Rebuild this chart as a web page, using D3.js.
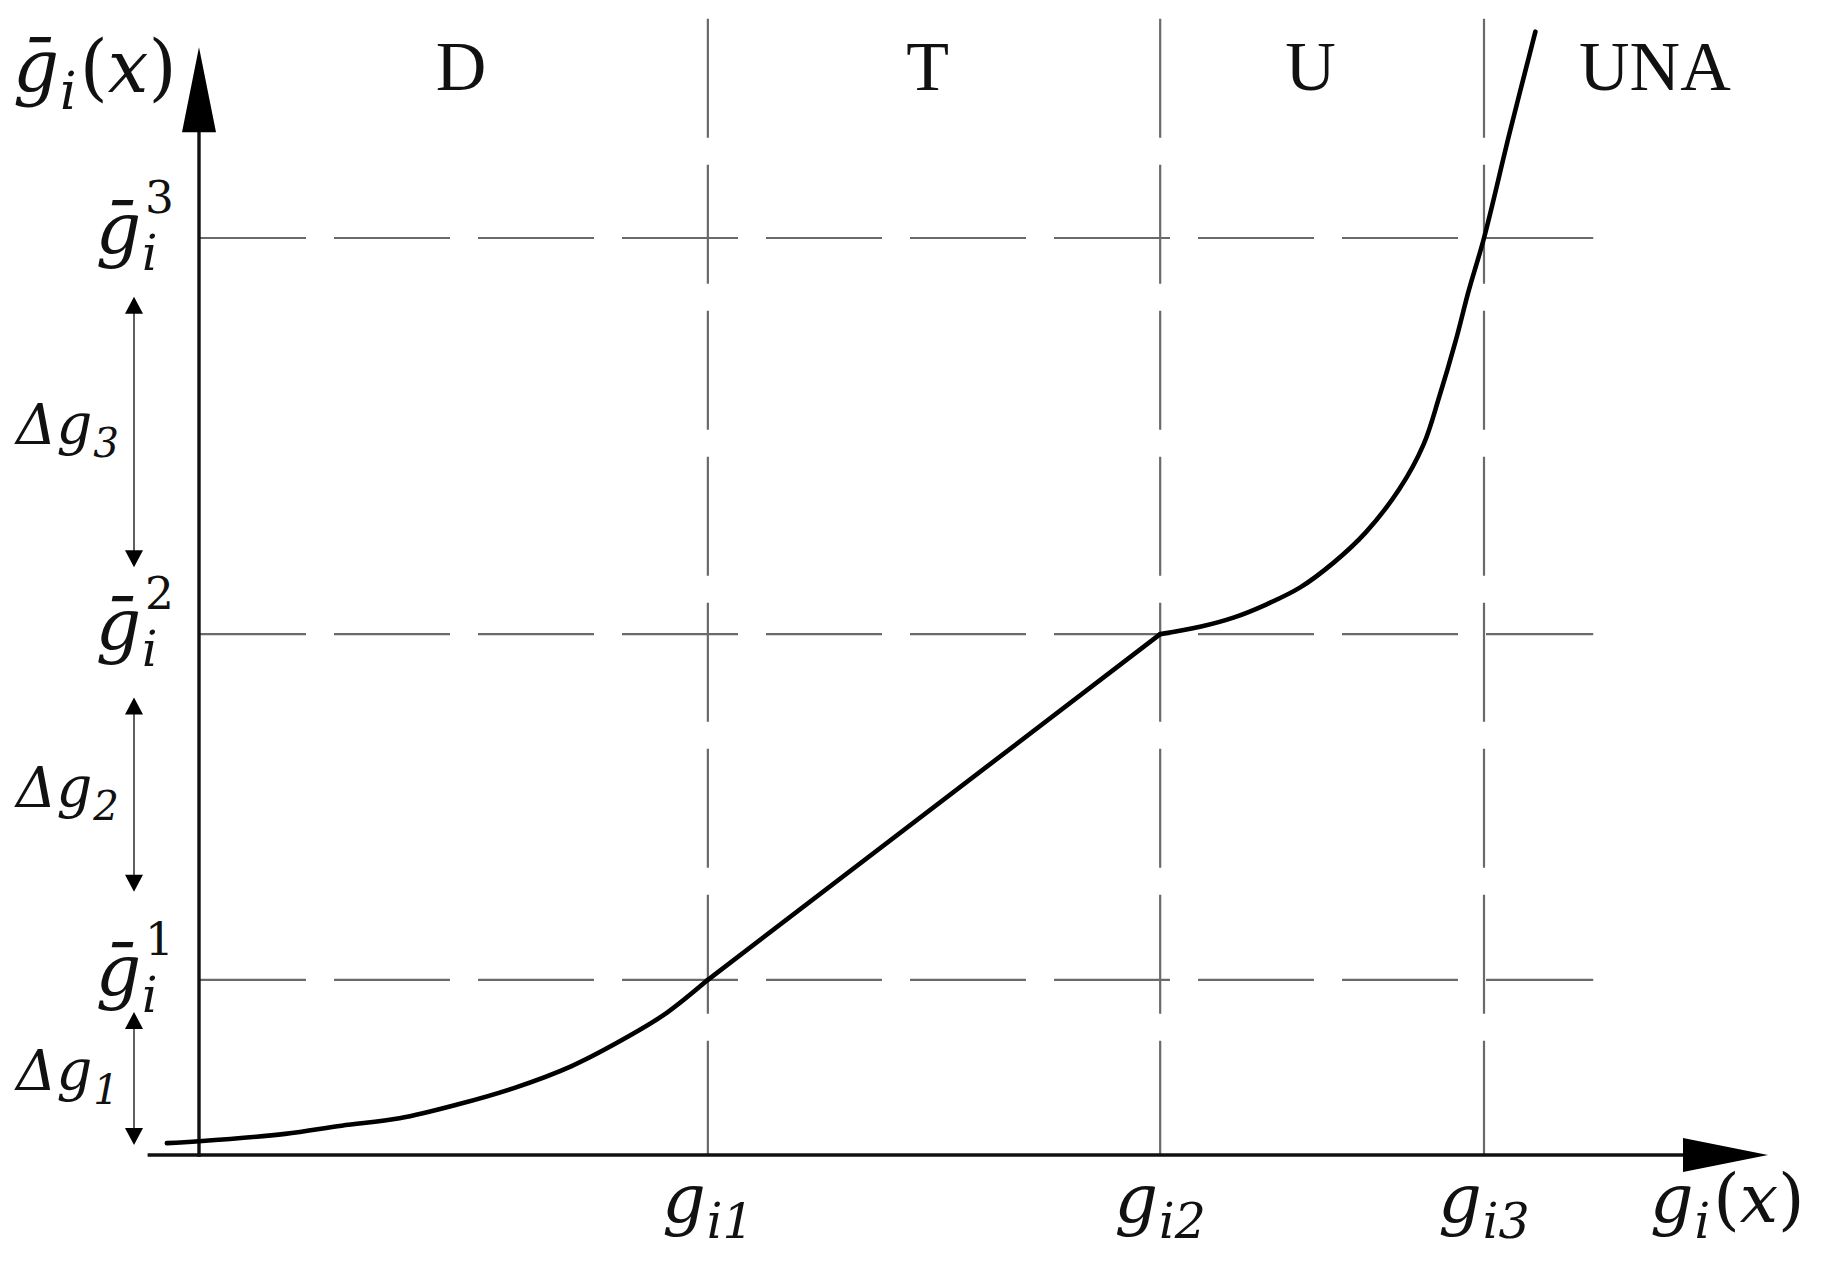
<!DOCTYPE html>
<html><head><meta charset="utf-8">
<script src="https://cdn.jsdelivr.net/npm/d3@7"></script>
<style>body{margin:0;background:#fff}svg{display:block}</style>
</head><body><svg id="chart" width="1828" height="1270"></svg>
<script>
// ---------- data (abstract units: y-axis at x=0, g_i3 = 10; x-axis at y=0, ḡ_i^3 = 10) ----------
const thresholdsX = [3.96, 7.48, 10.0];          // g_i1, g_i2, g_i3
const thresholdsY = [1.91, 5.68, 10.0];          // ḡ_i^1, ḡ_i^2, ḡ_i^3
const xTickSubs = ["i1", "i2", "i3"];
const yTickSups = ["1", "2", "3"];
const regionNames = ["D", "T", "U", "UNA"];
const regionLabelX = [2.04, 5.67, 8.65, 11.33];
const deltaSubs = ["1", "2", "3"];
const deltaLow = [0.11, 2.87, 6.41];
const deltaHigh = [1.56, 4.99, 9.36];
// lower (convex) branch up to g_i1
const lowerX = [-0.25, 0.0, 0.67, 1.11, 1.56, 2.01, 2.45, 2.90, 3.35, 3.64, 3.96];
const lowerY = [0.13, 0.15, 0.23, 0.32, 0.40, 0.55, 0.73, 0.97, 1.30, 1.55, 1.91];
// linear branch g_i1 -> g_i2
const midX = [3.96, 7.48];
const midY = [1.91, 5.68];
// upper branch from g_i2
const upperX = [7.48, 7.79, 8.05, 8.30, 8.57, 8.83, 9.08, 9.34, 9.53, 9.65, 9.78, 9.88, 10.0, 10.20, 10.40];
const upperY = [5.68, 5.76, 5.86, 6.00, 6.19, 6.46, 6.79, 7.26, 7.75, 8.26, 8.88, 9.42, 10.0, 11.15, 12.25];
// axis / grid extents (units)
const xAxisExtent = [-0.40, 12.21];
const yAxisExtent = [-0.02, 12.08];
const gridXEnd = 10.85;
const gridYTop = 12.39;

// ---------- drawing ----------
const svg = d3.select("#chart");
const x = d3.scaleLinear().domain([0, 10]).range([199, 1484]);
const y = d3.scaleLinear().domain([0, 10]).range([1155, 238]);

const MATH = "'DejaVu Serif', 'Liberation Serif', serif";
const gridColor = "#6a6a6a";

// dashed grid
svg.append("g").selectAll("line").data(thresholdsY).join("line")
  .attr("x1", x(0)).attr("x2", x(gridXEnd))
  .attr("y1", d => y(d)).attr("y2", d => y(d))
  .attr("stroke", gridColor).attr("stroke-width", 2.2)
  .attr("stroke-dasharray", "116 28").attr("stroke-dashoffset", 9);
svg.append("g").selectAll("line").data(thresholdsX).join("line")
  .attr("x1", d => x(d)).attr("x2", d => x(d))
  .attr("y1", y(gridYTop)).attr("y2", y(0))
  .attr("stroke", gridColor).attr("stroke-width", 2.2)
  .attr("stroke-dasharray", "119 27");

// axes
const axisColor = "#111";
svg.append("line").attr("x1", x(xAxisExtent[0])).attr("x2", x(xAxisExtent[1]) - 60)
  .attr("y1", y(0)).attr("y2", y(0)).attr("stroke", axisColor).attr("stroke-width", 3.4);
svg.append("line").attr("x1", x(0)).attr("x2", x(0))
  .attr("y1", y(yAxisExtent[0])).attr("y2", y(yAxisExtent[1]) + 60)
  .attr("stroke", axisColor).attr("stroke-width", 3.4);
{
  const tx = x(xAxisExtent[1]), ty = y(0);
  svg.append("path").attr("d", `M${tx},${ty} L${tx - 85},${ty - 17} L${tx - 85},${ty + 17} Z`).attr("fill", "#000");
  const ux = x(0), uy = y(yAxisExtent[1]);
  svg.append("path").attr("d", `M${ux},${uy} L${ux - 17},${uy + 85} L${ux + 17},${uy + 85} Z`).attr("fill", "#000");
}

// curve
const smoothGen = d3.line().x(d => x(d[0])).y(d => y(d[1])).curve(d3.curveCatmullRom.alpha(0.5));
const linGen = d3.line().x(d => x(d[0])).y(d => y(d[1]));
const curveStyle = sel => sel.attr("fill", "none").attr("stroke", "#000").attr("stroke-width", 4.6)
  .attr("stroke-linejoin", "round").attr("stroke-linecap", "round");
svg.append("path").attr("d", smoothGen(d3.zip(lowerX, lowerY))).call(curveStyle);
svg.append("path").attr("d", linGen(d3.zip(midX, midY))).call(curveStyle);
svg.append("path").attr("d", smoothGen(d3.zip(upperX, upperY))).call(curveStyle);

// delta arrows
const ax = 134;
deltaLow.forEach((lo, i) => {
  const y1 = y(deltaHigh[i]), y2 = y(lo);
  svg.append("line").attr("x1", ax).attr("x2", ax).attr("y1", y1 + 10).attr("y2", y2 - 10)
    .attr("stroke", "#444").attr("stroke-width", 1.7);
  svg.append("path").attr("d", `M${ax},${y1} L${ax - 9},${y1 + 17} L${ax + 9},${y1 + 17} Z`).attr("fill", "#000");
  svg.append("path").attr("d", `M${ax},${y2} L${ax - 9},${y2 - 17} L${ax + 9},${y2 - 17} Z`).attr("fill", "#000");
});

// math label helper
function addText(g, px, py, str, size, italic) {
  const t = g.append("text").attr("x", px).attr("y", py).attr("font-family", MATH)
    .attr("font-style", italic ? "italic" : "normal").attr("font-size", size).attr("fill", "#111").text(str);
  return t.node().getComputedTextLength();
}
function mathLabel(px, py, base, sub, sup, tail, anchor, size) {
  const g = svg.append("g");
  const bw = addText(g, 0, 0, base, size, true);
  let sw = 0;
  if (sub) sw = Math.max(sw, addText(g, bw + 1, size * 0.24, sub, size * (sup ? 0.68 : 0.72), true) + 1);
  if (sup) sw = Math.max(sw, addText(g, bw + 4, -size * 0.56, sup, size * 0.64, false) + 4);
  let w = bw + sw;
  if (tail) {
    w += 3;
    tail.forEach(p => { w += addText(g, w, 0, p[0], size, p[1]); });
  }
  const dx = anchor === "end" ? -w : anchor === "middle" ? -w / 2 : 0;
  g.attr("transform", `translate(${px + dx},${py})`);
}
const paren = [["(", false], ["x", true], [")", false]];

const SZ = 68;
mathLabel(13, 92, "ḡ", "i", null, paren, "start", 72);
thresholdsY.forEach((v, i) => mathLabel(174, y(v) + 15, "ḡ", "i", yTickSups[i], null, "end", 71));
thresholdsX.forEach((v, i) => mathLabel(x(v), 1222, "g", xTickSubs[i], null, null, "middle", SZ));
mathLabel(1650, 1222, "g", "i", null, paren, "start", SZ);
deltaSubs.forEach((s, i) => mathLabel(16, (y(deltaLow[i]) + y(deltaHigh[i])) / 2 + 12, "Δg", s, null, null, "start", 56));

// region labels
svg.append("g").selectAll("text").data(regionNames).join("text")
  .attr("x", (d, i) => x(regionLabelX[i])).attr("y", 90)
  .attr("text-anchor", "middle").attr("font-family", "'Liberation Serif', serif")
  .attr("font-size", 70).attr("fill", "#111").text(d => d);
</script></body></html>
